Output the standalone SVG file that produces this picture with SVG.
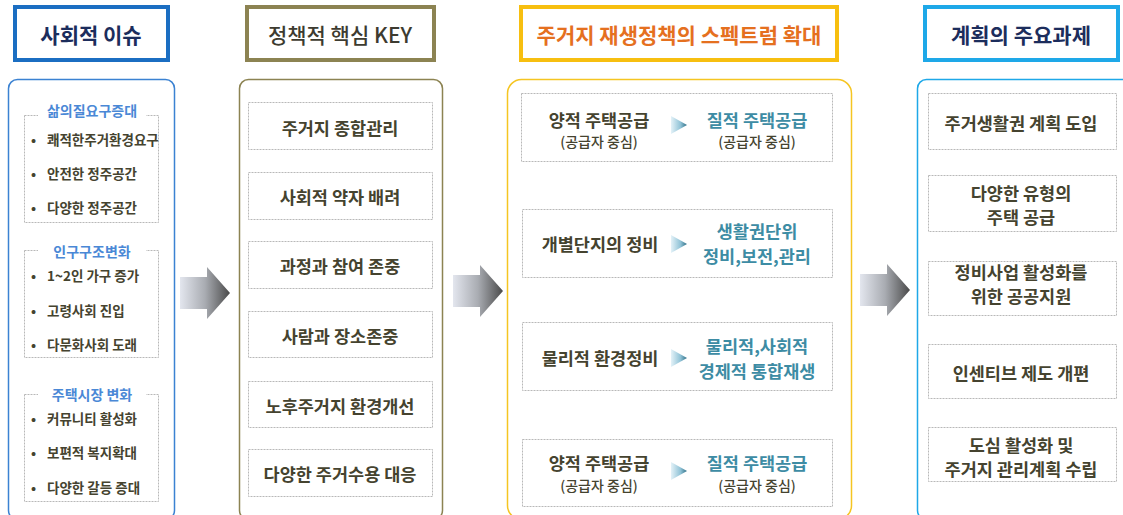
<svg xmlns="http://www.w3.org/2000/svg" width="1123" height="515" viewBox="0 0 1123 515">
<defs>
<linearGradient id="bigArrow" x1="0" y1="0" x2="1" y2="0">
<stop offset="0" stop-color="#e3e6ee"/>
<stop offset="0.5" stop-color="#a9acb2"/>
<stop offset="1" stop-color="#4a4a4a"/>
</linearGradient>
<linearGradient id="smallArrow" x1="0" y1="0" x2="1" y2="0">
<stop offset="0" stop-color="#e4f2f8"/>
<stop offset="0.6" stop-color="#8fc2d6"/>
<stop offset="1" stop-color="#2f6f86"/>
</linearGradient>
<path id="bigArrowShape" d="M0,-16 H27 V-26 L50,0 L27,26 V16 H0 Z"/>
<path id="smallArrowShape" d="M0,-9 L16,0 L0,9 Z"/>
</defs>
<style>
text{font-family:"Noto Sans CJK KR","Noto Sans",sans-serif;text-anchor:middle;dominant-baseline:central}
.hdr{font-size:21px;font-weight:700}
.item{font-size:17.5px;font-weight:700;fill:#45432f}
.small{font-size:14px;font-weight:500;fill:#45432f}
.teal{font-size:17.5px;font-weight:700;fill:#3d8ca4}
.sub{font-size:14px;font-weight:700;fill:#4a88d6}
.bul{font-size:13.5px;font-weight:700;fill:#45432f;text-anchor:start}
.box{fill:#fff;stroke:#b8b8b8;stroke-width:1;stroke-dasharray:2 1}
</style>
<rect width="1123" height="515" fill="#fff"/>

<g id="col1">
<rect x="15" y="7" width="153" height="53" fill="#fff" stroke="#1b6ec2" stroke-width="4"/>
<text class="hdr" x="91" y="34" fill="#1c2d5c">사회적 이슈</text>
<rect x="8.5" y="79.5" width="166" height="440" rx="9" fill="#fff" stroke="#3b82d2" stroke-width="1.5"/>
<rect class="box" x="24.5" y="115.5" width="134" height="107"/>
<rect x="38" y="100" width="108" height="20" fill="#fff"/>
<text class="sub" x="92" y="110">삶의질요구증대</text>
<text class="bul" x="31" y="139">•</text><text class="bul" x="47" y="139">쾌적한주거환경요구</text>
<text class="bul" x="31" y="173">•</text><text class="bul" x="47" y="173">안전한 정주공간</text>
<text class="bul" x="31" y="207">•</text><text class="bul" x="47" y="207">다양한 정주공간</text>
<rect class="box" x="24.5" y="250.5" width="134" height="107"/>
<rect x="38" y="241" width="108" height="20" fill="#fff"/>
<text class="sub" x="92" y="251">인구구조변화</text>
<text class="bul" x="31" y="275">•</text><text class="bul" x="47" y="275">1~2인 가구 증가</text>
<text class="bul" x="31" y="310">•</text><text class="bul" x="47" y="310">고령사회 진입</text>
<text class="bul" x="31" y="344">•</text><text class="bul" x="47" y="344">다문화사회 도래</text>
<rect class="box" x="24.5" y="394.5" width="134" height="107"/>
<rect x="38" y="384" width="108" height="20" fill="#fff"/>
<text class="sub" x="92" y="394">주택시장 변화</text>
<text class="bul" x="31" y="418">•</text><text class="bul" x="47" y="418">커뮤니티 활성화</text>
<text class="bul" x="31" y="452">•</text><text class="bul" x="47" y="452">보편적 복지확대</text>
<text class="bul" x="31" y="487">•</text><text class="bul" x="47" y="487">다양한 갈등 증대</text>
</g>

<g id="col2">
<rect x="247" y="7" width="187" height="53" fill="#fff" stroke="#8c8352" stroke-width="4"/>
<text class="hdr" x="340" y="34" fill="#3d3b30" style="font-weight:500">정책적 핵심 KEY</text>
<rect x="239.5" y="79.5" width="203" height="440" rx="9" fill="#fff" stroke="#8c8352" stroke-width="1.5"/>
<rect class="box" x="248.5" y="102.5" width="184" height="47"/>
<text class="item" x="340" y="127">주거지 종합관리</text>
<rect class="box" x="248.5" y="172.5" width="184" height="47"/>
<text class="item" x="340" y="196">사회적 약자 배려</text>
<rect class="box" x="248.5" y="241.5" width="184" height="47"/>
<text class="item" x="340" y="265">과정과 참여 존중</text>
<rect class="box" x="248.5" y="311.5" width="184" height="46"/>
<text class="item" x="340" y="335">사람과 장소존중</text>
<rect class="box" x="248.5" y="381.5" width="184" height="46"/>
<text class="item" x="340" y="405">노후주거지 환경개선</text>
<rect class="box" x="248.5" y="449.5" width="184" height="47"/>
<text class="item" x="340" y="473">다양한 주거수용 대응</text>
</g>

<g id="col3">
<rect x="521" y="7" width="316" height="53" fill="#fff" stroke="#f7bf10" stroke-width="4"/>
<text class="hdr" x="679" y="34" fill="#e5701f">주거지 재생정책의 스펙트럼 확대</text>
<rect x="507.5" y="79.5" width="344" height="440" rx="14" fill="#fff" stroke="#f5c522" stroke-width="1.5"/>
<rect class="box" x="521.5" y="93.5" width="311" height="68"/>
<text class="item" x="599" y="119">양적 주택공급</text>
<text class="small" x="599" y="141">(공급자 중심)</text>
<use href="#smallArrowShape" x="671" y="125" fill="url(#smallArrow)"/>
<text class="teal" x="757" y="119">질적 주택공급</text>
<text class="small" x="757" y="141">(공급자 중심)</text>
<rect class="box" x="522.5" y="209.5" width="310" height="68"/>
<text class="item" x="600" y="243">개별단지의 정비</text>
<use href="#smallArrowShape" x="671" y="244" fill="url(#smallArrow)"/>
<text class="teal" x="757" y="230">생활권단위</text>
<text class="teal" x="757" y="255">정비,보전,관리</text>
<rect class="box" x="522.5" y="322.5" width="310" height="68"/>
<text class="item" x="600" y="357">물리적 환경정비</text>
<use href="#smallArrowShape" x="671" y="358" fill="url(#smallArrow)"/>
<text class="teal" x="757" y="345">물리적,사회적</text>
<text class="teal" x="757" y="370">경제적 통합재생</text>
<rect class="box" x="522.5" y="439.5" width="310" height="67"/>
<text class="item" x="599" y="462">양적 주택공급</text>
<text class="small" x="599" y="485">(공급자 중심)</text>
<use href="#smallArrowShape" x="671" y="471" fill="url(#smallArrow)"/>
<text class="teal" x="757" y="462">질적 주택공급</text>
<text class="small" x="757" y="485">(공급자 중심)</text>
</g>

<g id="col4">
<rect x="925" y="7" width="193" height="53" fill="#fff" stroke="#1ea8e8" stroke-width="4"/>
<text class="hdr" x="1021" y="34" fill="#1c2d5c">계획의 주요과제</text>
<rect x="917.5" y="79.5" width="220" height="440" rx="9" fill="#fff" stroke="#1ea8e8" stroke-width="1.5"/>
<rect class="box" x="928.5" y="93.5" width="188" height="56"/>
<text class="item" x="1021" y="122">주거생활권 계획 도입</text>
<rect class="box" x="928.5" y="175.5" width="188" height="56"/>
<text class="item" x="1021" y="192">다양한 유형의</text>
<text class="item" x="1021" y="216">주택 공급</text>
<rect class="box" x="928.5" y="261.5" width="188" height="54"/>
<text class="item" x="1021" y="271">정비사업 활성화를</text>
<text class="item" x="1021" y="295">위한 공공지원</text>
<rect class="box" x="928.5" y="344.5" width="188" height="54"/>
<text class="item" x="1021" y="372">인센티브 제도 개편</text>
<rect class="box" x="928.5" y="427.5" width="188" height="54"/>
<text class="item" x="1021" y="444">도심 활성화 및</text>
<text class="item" x="1021" y="468">주거지 관리계획 수립</text>
</g>

<g id="connectors">
<use href="#bigArrowShape" x="180" y="293" fill="url(#bigArrow)"/>
<use href="#bigArrowShape" x="453" y="291" fill="url(#bigArrow)"/>
<use href="#bigArrowShape" x="860" y="290" fill="url(#bigArrow)"/>
</g>
</svg>
